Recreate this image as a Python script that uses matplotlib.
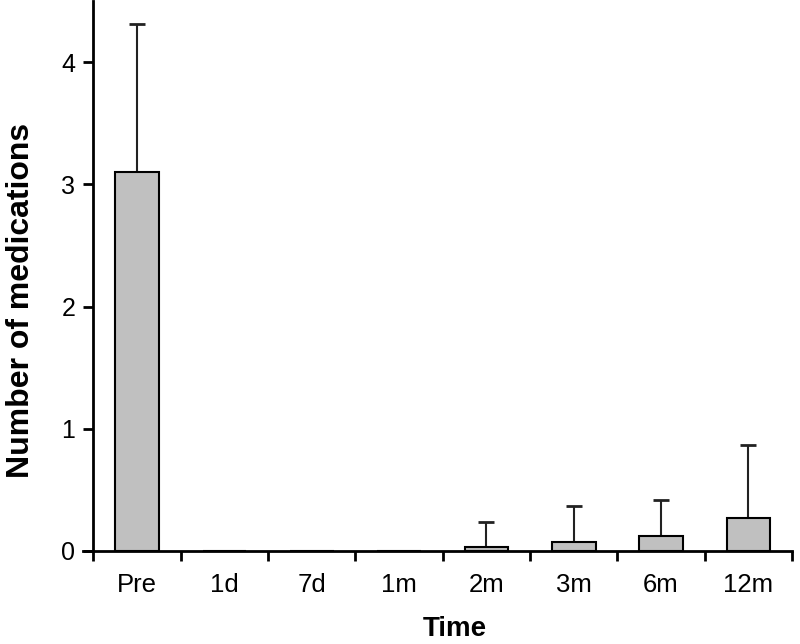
import numpy as np
import matplotlib
matplotlib.use("Agg")
import matplotlib.pyplot as plt

plt.rcParams['font.family'] = ['Liberation Sans', 'DejaVu Sans']

times = ['Pre', '1d', '7d', '1m', '2m', '3m', '6m', '12m']
means = [3.10, 0, 0, 0, 0.035, 0.07, 0.12, 0.27]
sds = [1.21, 0, 0, 0, 0.205, 0.30, 0.30, 0.60]

x = np.arange(len(times))
means_arr = np.array(means)
sds_arr = np.array(sds)

fig = plt.figure(figsize=(8, 6.44), dpi=100)
ax = fig.add_axes([83 / 800, 93 / 644, (792 - 83) / 800, 551 / 644 - 0.0014])

ax.bar(x, means_arr, width=0.5, color='#c0c0c0', edgecolor='black', linewidth=1.5, zorder=2)

# only upper error bars, skip empty groups
mask = sds_arr > 0
ax.errorbar(x[mask], means_arr[mask], yerr=[np.zeros(mask.sum()), sds_arr[mask]],
            fmt='none', ecolor='#222222', elinewidth=1.5, capsize=6, capthick=2, zorder=1)

ax.set_xlim(-0.62, len(times) - 0.5)
ax.set_ylim(0, 4.5)

ax.spines['top'].set_visible(False)
ax.spines['right'].set_visible(False)
ax.spines['left'].set_position(('data', -0.5))
ax.spines['left'].set_linewidth(2)
ax.spines['bottom'].set_linewidth(2)

ax.set_yticks([0, 1, 2, 3, 4])
ax.tick_params(axis='y', length=7, width=2, labelsize=18, pad=6)

# boundaries as major ticks, labels on minor ticks
ax.set_xticks(np.arange(-0.5, len(times), 1.0))
ax.set_xticklabels([])
ax.set_xticks(x, minor=True)
ax.set_xticklabels(times, minor=True)
ax.tick_params(axis='x', which='major', length=7, width=2)
ax.tick_params(axis='x', which='minor', length=0, labelsize=18.5, pad=16)

ax.set_xlabel('Time', fontsize=20, fontweight='bold')
ax.xaxis.set_label_coords(0.525, -0.119)
ax.set_ylabel('Number of medications', fontsize=23, fontweight='bold')
ax.yaxis.set_label_coords(-0.066, 0.455)

fig.savefig('out.png', dpi=100)
